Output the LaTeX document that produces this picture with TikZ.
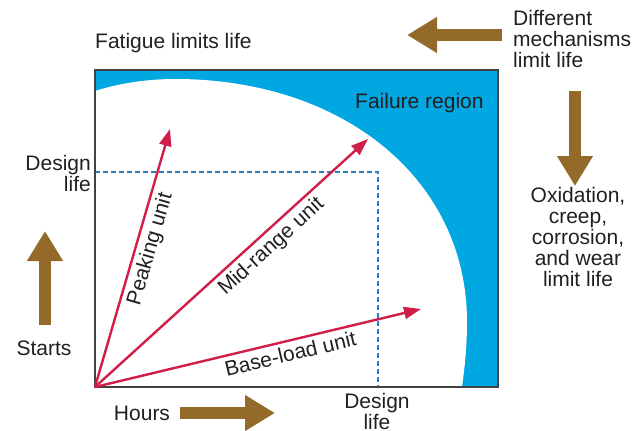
\documentclass[tikz,border=0pt]{standalone}
\usepackage{fontspec}
\setmainfont{Liberation Sans}
\usetikzlibrary{arrows.meta}
\definecolor{ink}{HTML}{231F20}
\definecolor{failcyan}{HTML}{00A7E1}
\definecolor{bronze}{HTML}{946A2B}
\definecolor{crimson}{HTML}{D11E48}
\definecolor{dashblue}{HTML}{2B7DC4}

\begin{document}
\begin{tikzpicture}[x=1pt,y=-1pt,
  lbl/.style={font=\fontsize{21}{21}\selectfont, text=ink, inner sep=0pt},
  unitarrow/.style={draw=crimson, line width=2.4pt, -{Triangle[length=17pt,width=12pt]}},
  bigarrow/.style={draw=bronze, line width=12.5pt, -{Triangle[length=30pt,width=34pt]}},
  guide/.style={draw=dashblue, line width=1.1pt, dash pattern=on 5pt off 3pt},
  frame/.style={draw=ink!85, line width=1.3pt},
]
\useasboundingbox (0,0) rectangle (643,431);

% plot area corners
\coordinate (O)  at (95,387);
\coordinate (TL) at (95,70);
\coordinate (BR) at (498,387);

% failure region: whole area cyan, safe zone cut out in white
\fill[failcyan] (TL) rectangle (BR);
\fill[white] (O) -- (95,91)
  .. controls (120,83) and (148,79) .. (175,79)
  .. controls (344,79) and (467,180) .. (467,322)
  .. controls (467,350) and (464,372) .. (462,387) -- cycle;

% design-life guides
\coordinate (DY) at (95,172);
\coordinate (DC) at (378,172);
\coordinate (DX) at (378,387);
\draw[guide] (DY) -- (DC) -- (DX);

\draw[frame] (TL) rectangle (BR);

% operating profiles
\coordinate (peak) at (170,129);
\coordinate (mid)  at (368,139);
\coordinate (base) at (421,309);
\draw[unitarrow] (O) -- node[lbl, sloped, below=4pt, pos=0.55] (lpeak) {Peaking unit} (peak);
\draw[unitarrow] (O) -- node[lbl, sloped, below=4pt, pos=0.61] (lmid) {Mid-range unit} (mid);
\draw[unitarrow] (O) -- node[lbl, sloped, below=4pt, pos=0.59] (lbase) {Base-load unit} (base);

% labels
\node[lbl, anchor=base west] (fat) at (95,48) {Fatigue limits life};
\node[lbl, anchor=base west] (fail) at (355,108) {Failure region};
\node[lbl, anchor=west, align=left] (diff) at (513,39) {Different\\mechanisms\\limit life};
\node[lbl, align=center] (oxid) at (578,237) {Oxidation,\\creep,\\corrosion,\\and wear\\limit life};
\node[lbl, anchor=east, align=right] (dlL) at (91,173) {Design\\life};
\node[lbl, align=center] (dlB) at (377,411) {Design\\life};
\node[lbl, anchor=base] (starts) at (44,355) {Starts};
\node[lbl, anchor=base] (hours) at (142,420) {Hours};

% direction arrows
\coordinate (lefts) at (502,35);  \coordinate (lefte) at (407,35);
\coordinate (downs) at (575,91);  \coordinate (downe) at (575,186);
\coordinate (ups)   at (45,325);  \coordinate (upe)   at (45,231);
\coordinate (rights) at (180,413); \coordinate (righte) at (275,413);
\draw[bigarrow] (lefts) -- (lefte);
\draw[bigarrow] (downs) -- (downe);
\draw[bigarrow] (ups) -- (upe);
\draw[bigarrow] (rights) -- (righte);
\end{tikzpicture}
\end{document}
